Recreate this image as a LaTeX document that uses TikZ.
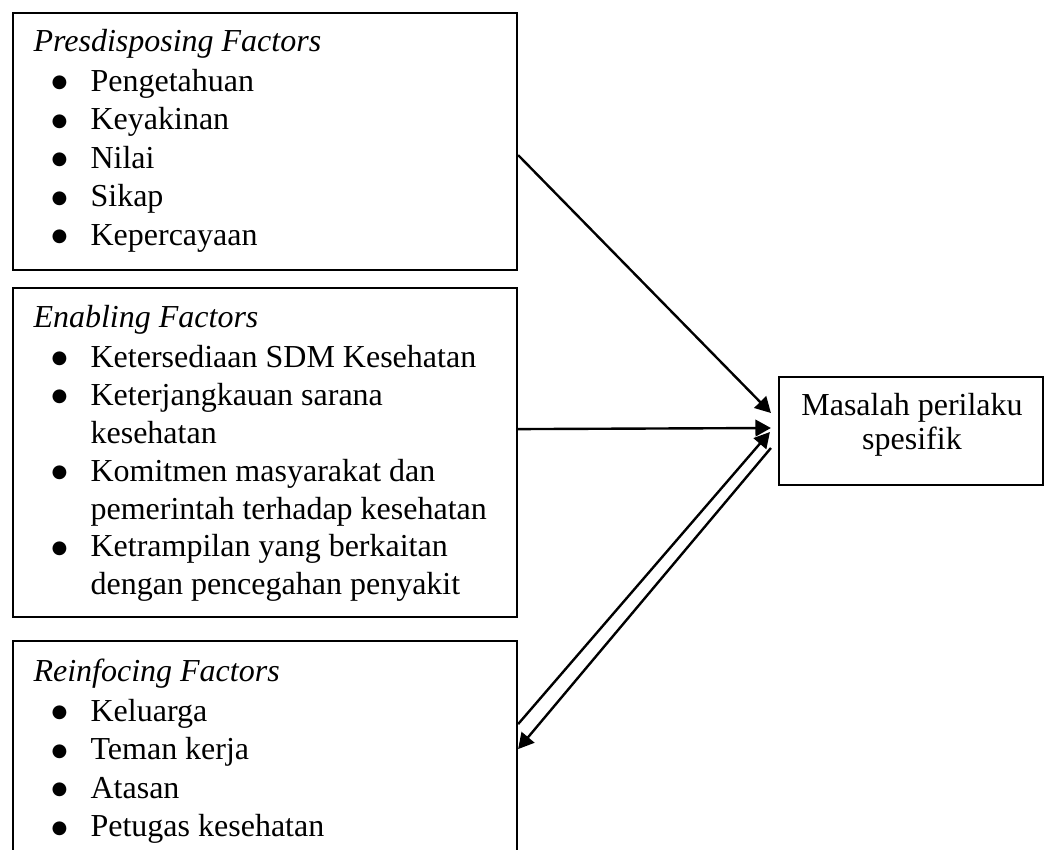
\documentclass[tikz,border=0pt]{standalone}
\usepackage{fontspec}
\setmainfont{Liberation Serif}
\newfontfamily\symfont{DejaVu Sans}
\usetikzlibrary{arrows.meta,calc}

% list helpers: bullet column and hanging indent for continued lines
\newcommand\blt{\raisebox{1.25pt}{\symfont\fontsize{6.8pt}{7pt}\selectfont ●}}
\newcommand\itm[1]{\makebox[21.4pt][l]{\hspace{6.75pt}\blt}#1}
\newcommand\cnt[1]{\hspace*{21.4pt}#1}

\tikzset{
  factorbox/.style={draw, line width=0.8pt, rectangle, inner sep=0pt, anchor=north west},
  listtext/.style={anchor=base west, inner sep=0pt},
  conn/.style={line width=0.9pt, -{Triangle[length=5.8pt,width=6.2pt]}},
}

\begin{document}
\begin{tikzpicture}[x=0.375pt, y=-0.375pt,
  every node/.style={font=\fontsize{12pt}{14.44pt}\selectfont}]
\useasboundingbox (0,0) rectangle (1044,850);
\clip (0,0) rectangle (1044,850);

% factor boxes
\node[factorbox, minimum width=189pt, minimum height=96.4pt] (b1) at (12,12) {};
\node[factorbox, minimum width=189pt, minimum height=123.4pt] (b2) at (12,287) {};
\node[factorbox, minimum width=189pt, minimum height=90pt] (b3) at (12,640) {};

% outcome box
\node[draw, line width=0.8pt, rectangle, inner sep=0pt,
      minimum width=99pt, minimum height=40.5pt] (m) at (911,431) {};

% box contents
\node[listtext] (t1) at (33,51) {\parbox[t]{185pt}{\raggedright
  \textit{Presdisposing Factors}\\[0.6pt]
  \itm{Pengetahuan}\\
  \itm{Keyakinan}\\
  \itm{Nilai}\\
  \itm{Sikap}\\
  \itm{Kepercayaan}}};

\node[listtext] (t2) at (33,327) {\parbox[t]{185pt}{\raggedright
  \textit{Enabling Factors}\\[0.6pt]
  \itm{Ketersediaan SDM Kesehatan}\\[-0.2pt]
  \itm{Keterjangkauan sarana}\\[-0.2pt]
  \cnt{kesehatan}\\[-0.2pt]
  \itm{Komitmen masyarakat dan}\\[-0.2pt]
  \cnt{pemerintah terhadap kesehatan}\\[-0.2pt]
  \itm{Ketrampilan yang berkaitan}\\[-0.2pt]
  \cnt{dengan pencegahan penyakit}}};

\node[listtext] (t3) at (33,681) {\parbox[t]{185pt}{\raggedright
  \textit{Reinfocing Factors}\\[0.6pt]
  \itm{Keluarga}\\
  \itm{Teman kerja}\\
  \itm{Atasan}\\
  \itm{Petugas kesehatan}}};

\node[anchor=base, inner sep=0pt] (mt) at (912,415)
  {\parbox[t]{95pt}{\centering\fontsize{12pt}{13.1pt}\selectfont Masalah perilaku\\spesifik}};

% connectors
\draw[conn] ($(b1.east)+(0,13.5)$) -- ($(m.west)+(-7,-18)$);
\draw[conn] ($(b2.east)+(0,-23.5)$) -- ($(m.west)+(-7,-3)$);
\draw[conn] ($(b3.east)+(0,-37)$) -- ($(m.west)+(-8,1)$);
\draw[conn] ($(m.west)+(-7,17)$) -- ($(b3.east)+(0,-12)$);
\end{tikzpicture}
\end{document}
